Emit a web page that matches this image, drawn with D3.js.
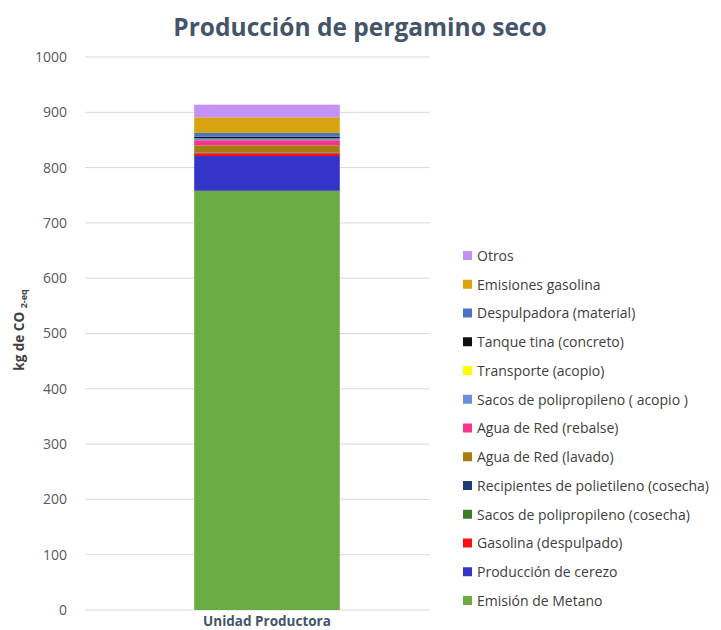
<!DOCTYPE html>
<html>
<head>
<meta charset="utf-8">
<script src="https://cdn.jsdelivr.net/npm/d3@7"></script>
<style>
  body { margin: 0; background: #fff; }
  text { font-family: "Open Sans", "DejaVu Sans", sans-serif; }
</style>
</head>
<body>
<svg id="chart" width="721" height="630"></svg>
<script>
// data, bottom of the stack first
var categories = ["Unidad Productora"];
var seriesNames = [
  "Emisión de Metano",
  "Producción de cerezo",
  "Gasolina (despulpado)",
  "Sacos de polipropileno (cosecha)",
  "Recipientes de polietileno (cosecha)",
  "Agua de Red (lavado)",
  "Agua de Red (rebalse)",
  "Sacos de polipropileno ( acopio )",
  "Transporte (acopio)",
  "Tanque tina (concreto)",
  "Despulpadora (material)",
  "Emisiones gasolina",
  "Otros"
];
var seriesValues = [758, 63, 5, 0.6, 0.8, 13, 9, 3, 0.4, 3, 7, 28, 23];
var seriesColors = ["#6aac44", "#3434c8", "#ff1010", "#3d7a2a", "#1f3a7a", "#a67d10",
                    "#f5348e", "#6a8fd8", "#ffff00", "#101010", "#4a74c4", "#d9a20f", "#c491f5"];
var yTicks = [0, 100, 200, 300, 400, 500, 600, 700, 800, 900, 1000];

var svg = d3.select("#chart");
var plotLeft = 85, plotRight = 430, plotTop = 57, plotBottom = 610;

var y = d3.scaleLinear().domain([0, 1000]).range([plotBottom, plotTop]);
var x = d3.scaleBand().domain(categories).range([85, 449]).paddingInner(0.6).paddingOuter(0.3);

// title
svg.append("text")
  .attr("x", 360).attr("y", 36)
  .attr("text-anchor", "middle")
  .attr("font-size", 24.5).attr("font-weight", "bold")
  .attr("fill", "#44546a")
  .text("Producción de pergamino seco");

// gridlines
svg.append("g").selectAll("line")
  .data(yTicks)
  .enter().append("line")
  .attr("x1", plotLeft).attr("x2", plotRight)
  .attr("y1", function (d) { return y(d); })
  .attr("y2", function (d) { return y(d); })
  .attr("stroke", "#d9d9d9").attr("stroke-width", 1);

// y axis labels
var yAxis = d3.axisLeft(y).tickValues(yTicks).tickFormat(d3.format("d")).tickSize(0).tickPadding(0);
var ya = svg.append("g").attr("transform", "translate(67,0)").call(yAxis);
ya.select(".domain").remove();
ya.selectAll("text").attr("font-size", 14).attr("fill", "#595959")
  .style("font-family", "'Open Sans', sans-serif");

// y axis title
var yt = svg.append("text")
  .attr("transform", "translate(24,330) rotate(-90)")
  .attr("text-anchor", "middle")
  .attr("font-size", 13.5).attr("font-weight", "bold")
  .attr("fill", "#404040");
yt.append("tspan").text("kg de CO ");
yt.append("tspan").attr("font-size", 9).attr("dy", 3).text("2-eq");

// stacked bar
var row = { cat: categories[0] };
seriesNames.forEach(function (n, i) { row[n] = seriesValues[i]; });
var stack = d3.stack().keys(seriesNames)([row]);

svg.append("g").selectAll("rect")
  .data(stack)
  .enter().append("rect")
  .attr("x", x(categories[0]))
  .attr("width", x.bandwidth())
  .attr("y", function (d) { return y(d[0][1]); })
  .attr("height", function (d) { return y(d[0][0]) - y(d[0][1]); })
  .attr("fill", function (d, i) { return seriesColors[i]; });

// x label
svg.append("text")
  .attr("x", x(categories[0]) + x.bandwidth() / 2).attr("y", 626)
  .attr("text-anchor", "middle")
  .attr("font-size", 13.5).attr("font-weight", "bold")
  .attr("fill", "#44546a")
  .text(categories[0]);

// legend, reversed like the original
var legendItems = seriesNames.map(function (n, i) { return { name: n, color: seriesColors[i] }; }).reverse();
var lg = svg.append("g").selectAll("g")
  .data(legendItems)
  .enter().append("g")
  .attr("transform", function (d, i) { return "translate(463," + (256 + i * 28.75) + ")"; });

lg.append("rect")
  .attr("x", 0).attr("y", -5).attr("width", 9).attr("height", 9)
  .attr("fill", function (d) { return d.color; });

lg.append("text")
  .attr("x", 14).attr("y", 0).attr("dy", "0.35em")
  .attr("font-size", 14).attr("fill", "#404040")
  .text(function (d) { return d.name; });
</script>
</body>
</html>
